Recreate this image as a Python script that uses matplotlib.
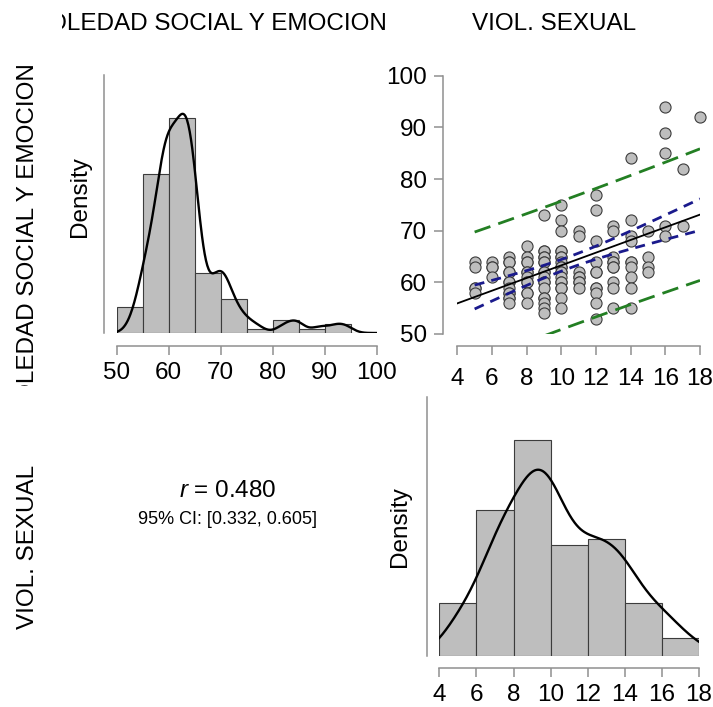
import numpy as np
import pandas as pd
import matplotlib
matplotlib.use('Agg')
import matplotlib.pyplot as plt

plt.rcParams['font.family'] = ['Liberation Sans', 'DejaVu Sans']
plt.rcParams['mathtext.fontset'] = 'custom'
plt.rcParams['mathtext.it'] = 'Liberation Sans:italic'
plt.rcParams['mathtext.rm'] = 'Liberation Sans'

# data (duplicates added so the histograms match)
viol_sexual = [5, 5, 5, 5, 5, 6, 6, 6, 6,
               7, 7, 7, 7, 7, 7, 7, 7, 7, 7, 7, 7, 7,
               8, 8, 8, 8, 8, 8, 8, 8, 8, 8, 8, 8,
               9, 9, 9, 9, 9, 9, 9, 9, 9, 9, 9, 9, 9, 9, 9, 9, 9, 9,
               10, 10, 10, 10, 10, 10, 10, 10, 10, 10, 10, 10, 10, 10, 10, 10, 10, 10, 10,
               11, 11, 11, 11, 11, 11, 11, 11,
               12, 12, 12, 12, 12, 12, 12, 12, 12, 12, 12,
               13, 13, 13, 13, 13, 13, 13, 13, 13, 13,
               14, 14, 14, 14, 14, 14, 14, 14, 14, 14,
               15, 15, 15, 15, 16, 16, 16, 16, 16, 17, 17, 18]
soledad = [64, 63, 59, 59, 58, 64, 63, 63, 61,
           65, 64, 64, 62, 62, 60, 60, 59, 58, 58, 57, 57, 56,
           67, 65, 64, 64, 62, 62, 61, 60, 60, 58, 58, 56,
           73, 66, 66, 65, 65, 64, 64, 62, 62, 61, 60, 60, 59, 57, 57, 56, 55, 54,
           75, 72, 70, 66, 66, 65, 65, 64, 63, 63, 62, 62, 61, 60, 60, 59, 59, 57, 55,
           70, 69, 62, 61, 61, 60, 60, 59,
           77, 74, 68, 64, 62, 62, 59, 59, 58, 56, 53,
           71, 70, 65, 64, 64, 63, 63, 60, 59, 55,
           84, 72, 69, 68, 64, 64, 63, 61, 59, 55,
           70, 65, 63, 62, 94, 89, 85, 71, 69, 82, 71, 92]

sol_breaks = [50, 55, 60, 65, 70, 75, 80, 85, 90, 95, 100]
viol_breaks = [4, 6, 8, 10, 12, 14, 16, 18]
sol_ticks = [50, 60, 70, 80, 90, 100]
viol_ticks = [4, 6, 8, 10, 12, 14, 16, 18]
r_text = '$r$ = 0.480'
ci_text = '95% CI: [0.332, 0.605]'
t_crit = 1.98  # t(0.975, df=120)

W, H = 713, 707
fig = plt.figure(figsize=(7.13, 7.07), dpi=100)
AXC = '#909090'
FS = 17.5


def px_axes(left, top, right, bottom):
    return fig.add_axes([left / W, 1 - bottom / H, (right - left) / W, (bottom - top) / H])


def bw_nrd0(v):
    iqr = np.percentile(v, 75) - np.percentile(v, 25)
    return 0.9 * min(v.std(ddof=1), iqr / 1.34) * len(v) ** -0.2


def kde(v, grid):
    h = bw_nrd0(v)
    z = (grid[:, None] - v[None, :]) / h
    return np.exp(-0.5 * z ** 2).sum(1) / (len(v) * h * np.sqrt(2 * np.pi))


def style_axes(ax, xticks, x_out, y_out, xpad=5):
    for s in ['top', 'right']:
        ax.spines[s].set_visible(False)
    for s in ['bottom', 'left']:
        ax.spines[s].set_color(AXC)
        ax.spines[s].set_linewidth(1.1)
    ax.spines['bottom'].set_position(('outward', x_out * 0.72))
    ax.spines['left'].set_position(('outward', y_out * 0.72))
    ax.spines['bottom'].set_bounds(xticks[0], xticks[-1])
    ax.set_xticks(xticks)
    ax.tick_params(axis='both', length=6.5, width=1.1, color=AXC, labelsize=FS, pad=5)
    ax.tick_params(axis='x', pad=xpad)


def hist_panel(ax, v, breaks, ticks, x_out, y_out):
    v = np.asarray(v, dtype=float)
    breaks = np.asarray(breaks, dtype=float)
    bins = pd.Series(pd.cut(v, breaks, right=True, include_lowest=True))
    counts = bins.value_counts(sort=False).sort_index().values
    widths = np.diff(breaks)
    dens = counts / (counts.sum() * widths)
    ax.bar(breaks[:-1], dens, width=widths, align='edge', color='#bebebe',
           edgecolor='#3c3c3c', linewidth=0.8)
    grid = np.linspace(breaks[0], breaks[-1], 400)
    ax.plot(grid, kde(v, grid), color='black', lw=1.7)
    ax.set_xlim(breaks[0], breaks[-1])
    ax.set_ylim(0, dens.max() * 1.2)
    style_axes(ax, ticks, x_out, y_out)
    ax.set_yticks([])


x = np.array(viol_sexual, dtype=float)
y = np.array(soledad, dtype=float)

# top-left: histogram of soledad
ax1 = px_axes(116.7, 75, 376.7, 333)
hist_panel(ax1, y, sol_breaks, sol_ticks, 13, 12.7)

# bottom-right: histogram of viol. sexual
ax4 = px_axes(439.3, 397, 699, 655.7)
hist_panel(ax4, x, viol_breaks, viol_ticks, 12, 12.6)

# top-right: scatter with regression, CI and prediction interval
ax2 = px_axes(457.3, 75.7, 700, 334)
ax2.scatter(x, y, s=64, c='#bebebe', edgecolors='#3c3c3c', linewidths=0.8, zorder=2, clip_on=False)
b1, b0 = np.polyfit(x, y, 1)
n = len(x)
res = y - (b0 + b1 * x)
s = np.sqrt((res ** 2).sum() / (n - 2))
sxx = ((x - x.mean()) ** 2).sum()
xl = np.linspace(4, 18, 100)
ax2.plot(xl, b0 + b1 * xl, color='black', lw=1.3, zorder=3)
xb = np.linspace(x.min(), x.max(), 100)
yb = b0 + b1 * xb
se_fit = s * np.sqrt(1 / n + (xb - x.mean()) ** 2 / sxx)
se_pred = s * np.sqrt(1 + 1 / n + (xb - x.mean()) ** 2 / sxx)
for sign in (1, -1):
    ax2.plot(xb, yb + sign * t_crit * se_fit, color='#1a1a8c', lw=2.0, dashes=(3.6, 2.6), zorder=3)
    ax2.plot(xb, yb + sign * t_crit * se_pred, color='#237f23', lw=2.0, dashes=(6.0, 3.0), zorder=3)
ax2.set_xlim(4, 18)
ax2.set_ylim(50, 100)
style_axes(ax2, viol_ticks, 12, 14.6, xpad=9.5)
ax2.spines['left'].set_bounds(50, 100)
ax2.set_yticks(sol_ticks)

# density labels
fig.text(80 / W, 1 - 197 / H, 'Density', rotation=90, ha='center', va='center', fontsize=FS)
fig.text(400 / W, 1 - 527 / H, 'Density', rotation=90, ha='center', va='center', fontsize=FS)

# correlation text
fig.text(228 / W, 1 - 491 / H, r_text, ha='center', va='center', fontsize=FS)
fig.text(228 / W, 1 - 519 / H, ci_text, ha='center', va='center', fontsize=13)

# variable names (clipped like the original)
hax = px_axes(62, 0, 430, 60)
hax.axis('off')
hax.text(387 / W, 1 - 24 / H, 'SOLEDAD SOCIAL Y EMOCION', transform=fig.transFigure,
         ha='right', va='center', fontsize=FS, clip_on=True)
fig.text(554 / W, 1 - 24 / H, 'VIOL. SEXUAL', ha='center', va='center', fontsize=FS)
rax = px_axes(0, 55, 70, 386)
rax.axis('off')
rax.text(28 / W, 1 - 63 / H, 'SOLEDAD SOCIAL Y EMOCION', transform=fig.transFigure,
         rotation=90, ha='center', va='top', fontsize=FS, clip_on=True)
fig.text(28 / W, 1 - 547 / H, 'VIOL. SEXUAL', rotation=90, ha='center', va='center', fontsize=FS)

fig.savefig('out.png', dpi=100)
